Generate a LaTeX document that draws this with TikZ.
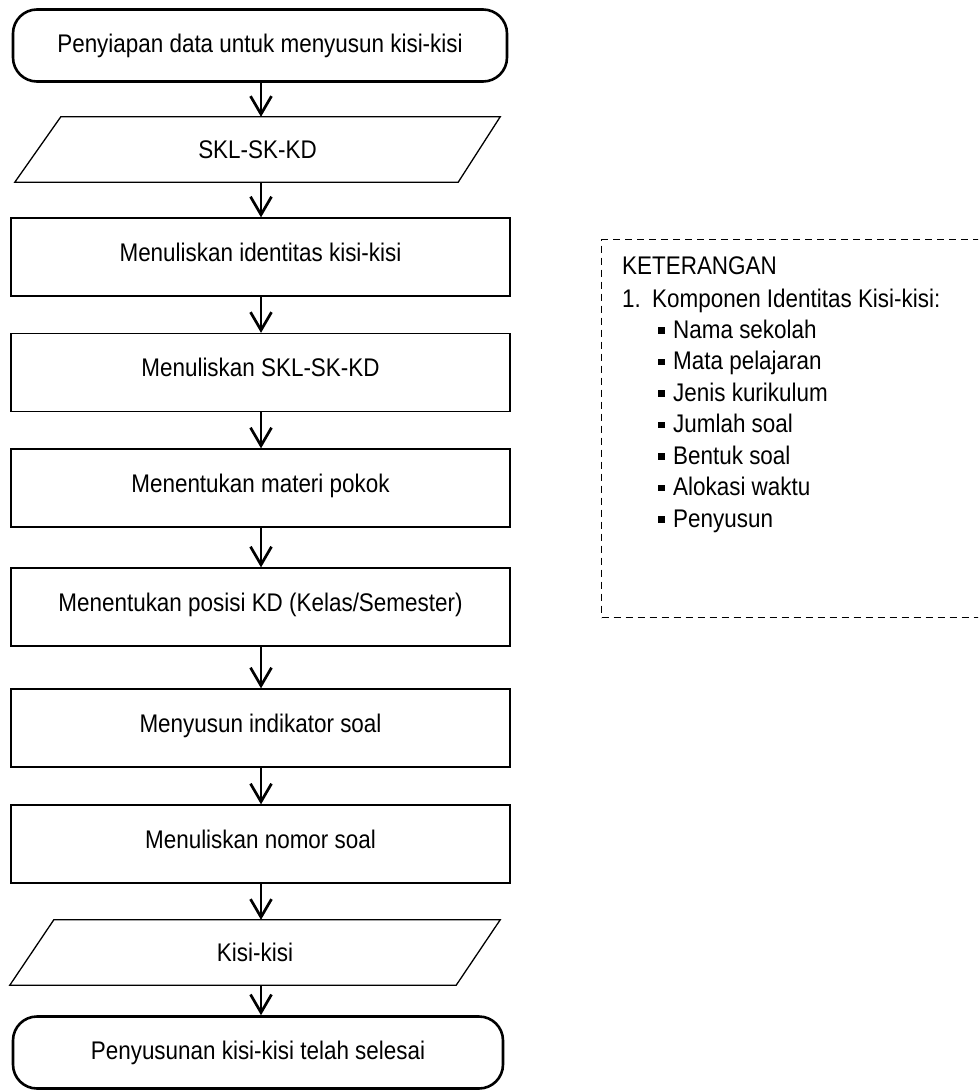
\documentclass[tikz,border=0pt]{standalone}
\usepackage{fontspec}
\setmainfont{Liberation Sans}[FakeStretch=0.88]
\usetikzlibrary{arrows.meta}

\tikzset{
  term/.style={draw, line width=2.6pt, rounded corners=24pt, minimum height=72pt, inner sep=0pt},
  stepbox/.style={draw, line width=1.3pt, minimum width=499pt, minimum height=78pt, inner sep=0pt,
    text height=18pt, text depth=10pt},
  iobox/.style={minimum height=65pt, inner sep=0pt},
  iolines/.style={line width=1.3pt, line join=miter},
  panah/.style={line width=2.7pt, -{Straight Barb[length=18pt,width=21pt]}},
  ketbox/.style={draw, dashed, dash pattern=on 7pt off 5pt, line width=1.3pt, minimum width=420pt, minimum height=378pt, inner sep=0pt},
  kettext/.style={anchor=base west, inner sep=0pt}
}
\newcommand{\teksbesar}{\fontsize{25.5}{29}\selectfont}
\newcommand{\kotakkecil}{\makebox[15pt][l]{\rule[4.5pt]{6.5pt}{6.5pt}}}

\begin{document}
\begin{tikzpicture}[x=1pt,y=-1pt,font=\teksbesar]
  \clip (0,0) rectangle (978,1090);
  \coordinate (sumbu) at (261,0);

  % flowchart
  \node[term, minimum width=494pt] (mulai) at (260,45.5) {Penyiapan data untuk menyusun kisi-kisi};
  \node[iobox, minimum width=485pt] (skl) at (257.5,149.5) {SKL-SK-KD};
  \draw[iolines] ([xshift=46pt]skl.north west) -- (skl.north east)
      -- ([xshift=-42pt]skl.south east) -- (skl.south west) -- cycle;

  \foreach \y/\teks [count=\i] in {257/Menuliskan identitas kisi-kisi,
      372.5/Menuliskan SKL-SK-KD,
      488/Menentukan materi pokok,
      607/{Menentukan posisi KD (Kelas/Semester)},
      728/Menyusun indikator soal,
      844/Menuliskan nomor soal}{
    \node[stepbox] (langkah\i) at (260.5,\y) {\teks};
  }

  \node[iobox, minimum width=490pt] (kisi) at (255,952.5) {Kisi-kisi};
  \draw[iolines] ([xshift=44pt]kisi.north west) -- (kisi.north east)
      -- ([xshift=-44pt]kisi.south east) -- (kisi.south west) -- cycle;
  \node[term, minimum width=490pt] (selesai) at (258,1052.5) {Penyusunan kisi-kisi telah selesai};

  % panah
  \foreach \a/\b in {mulai/skl, skl/langkah1, langkah1/langkah2, langkah2/langkah3,
      langkah3/langkah4, langkah4/langkah5, langkah5/langkah6, langkah6/kisi, kisi/selesai}{
    \draw[panah] (\a.south -| sumbu) -- (\b.north -| sumbu);
  }

  % keterangan
  \node[ketbox, anchor=north west] (ket) at (601,239) {};
  \node[kettext] (ketjudul) at (622,274) {KETERANGAN};
  \node[kettext] (ketnomor) at (622,307) {1.};
  \node[kettext] (ketkomponen) at (652,307) {Komponen Identitas Kisi-kisi:};
  \foreach \teks [count=\i] in {Nama sekolah, Mata pelajaran, Jenis kurikulum,
      Jumlah soal, Bentuk soal, Alokasi waktu, Penyusun}{
    \node[kettext] (butir\i) at (658,{338+31.5*(\i-1)}) {\kotakkecil\teks};
  }
\end{tikzpicture}
\end{document}
